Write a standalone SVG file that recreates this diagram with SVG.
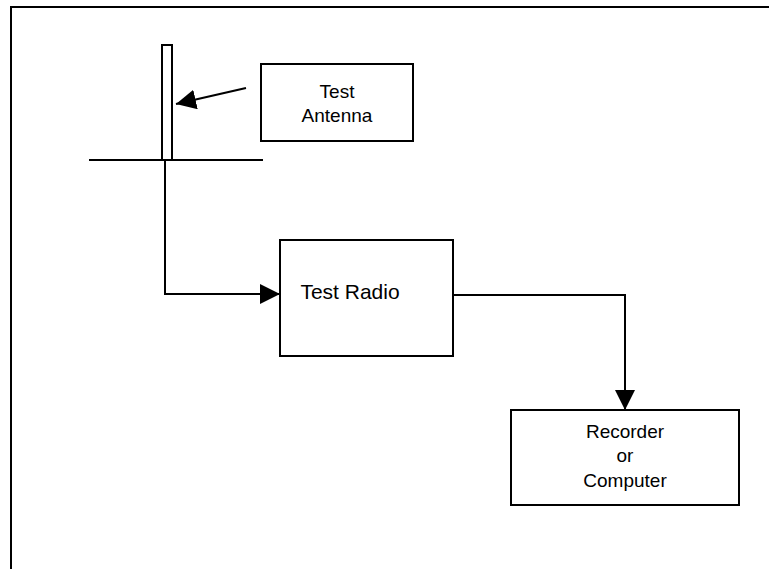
<svg xmlns="http://www.w3.org/2000/svg" width="769" height="569" viewBox="0 0 769 569">
<style>
  .box { fill: #fff; stroke: #000; stroke-width: 2; }
  .ln { fill: none; stroke: #000; stroke-width: 2; }
  .t { font-family: "Liberation Sans", Arial, sans-serif; font-size: 19px; fill: #000; text-anchor: middle; }
</style>
<defs>
  <marker id="ah" viewBox="0 0 20 20" refX="20" refY="10" markerWidth="20" markerHeight="20" markerUnits="userSpaceOnUse" orient="auto">
    <path d="M0,0 L20,10 L0,20 Z" fill="#000"/>
  </marker>
</defs>
<path class="ln" d="M11,569 V7 H769" stroke-width="3"/>
<g id="ground">
  <line class="ln" x1="89" y1="160" x2="263" y2="160"/>
</g>
<g id="antenna">
  <rect class="box" x="162" y="45" width="10" height="115"/>
</g>
<g id="test-antenna">
  <rect class="box" x="261" y="64" width="152" height="77"/>
  <text class="t" x="337" y="98">Test</text>
  <text class="t" x="337" y="122">Antenna</text>
</g>
<g id="test-radio">
  <rect class="box" x="280" y="240" width="173" height="116"/>
  <text class="t" x="350" y="299" style="font-size:21px">Test Radio</text>
</g>
<g id="recorder">
  <rect class="box" x="511" y="410" width="228" height="95"/>
  <text class="t" x="625" y="438">Recorder</text>
  <text class="t" x="625" y="462">or</text>
  <text class="t" x="625" y="487">Computer</text>
</g>
<g id="connectors">
  <line class="ln" x1="246" y1="88" x2="176" y2="104" marker-end="url(#ah)"/>
  <path class="ln" d="M165,161 V294 H280" marker-end="url(#ah)"/>
  <path class="ln" d="M453,295 H625 V410" marker-end="url(#ah)"/>
</g>
</svg>
